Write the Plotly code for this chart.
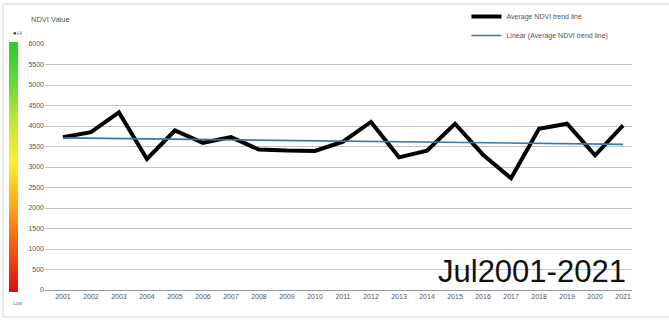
import numpy as np
import plotly.graph_objects as go

years = list(range(2001, 2022))
ndvi = [3725, 3850, 4330, 3195, 3890, 3590, 3730, 3425, 3400, 3390, 3620,
        4100, 3235, 3400, 4055, 3300, 2725, 3933, 4055, 3283, 4015]
y_ticks = list(range(0, 6001, 500))

# least-squares trend of the yearly averages
slope, intercept = np.polyfit(years, ndvi, 1)
trend = [slope * yr + intercept for yr in years]

font = "Liberation Sans, Arial, sans-serif"

fig = go.Figure()
fig.add_trace(go.Scatter(
    x=years, y=ndvi, mode="lines", name="Average NDVI trend line",
    line=dict(color="#000000", width=4),
))
fig.add_trace(go.Scatter(
    x=years, y=trend, mode="lines", name="Linear (Average NDVI trend line)",
    line=dict(color="#3a78a8", width=1.6),
))
# colour ramp on the left side
fig.add_trace(go.Scatter(
    x=[None], y=[None], mode="markers", showlegend=False, hoverinfo="skip",
    marker=dict(
        color=[0], cmin=0, cmax=1, showscale=True,
        colorscale=[[0, "#d90f0f"], [0.18, "#f25a12"], [0.35, "#ffab1a"],
                    [0.52, "#ffef2a"], [0.7, "#b5e83a"], [0.85, "#5fd83a"],
                    [1, "#2ccc2c"]],
        colorbar=dict(
            x=-0.061, xanchor="left", y=0.5, yanchor="middle",
            lenmode="pixels", len=270, thickness=9, xpad=0,
            outlinewidth=0, showticklabels=False, ticks="",
        ),
    ),
))

fig.update_layout(
    width=669, height=320,
    margin=dict(l=45, r=37, t=44, b=30, autoexpand=False),
    paper_bgcolor="white", plot_bgcolor="white",
    font=dict(family=font, size=7, color="#555555"),
    showlegend=True,
    legend=dict(
        x=0.718, y=1.171, xanchor="left", yanchor="top",
        bgcolor="rgba(0,0,0,0)", font=dict(size=7, color="#555555"),
        itemwidth=30, tracegroupgap=0,
    ),
    xaxis=dict(
        range=[2000.36, 2021.32], tickmode="array", tickvals=years,
        ticktext=[str(y) for y in years], showgrid=False, zeroline=False,
        showline=True, linecolor="#9a9a9a", linewidth=1, ticks="",
        tickfont=dict(size=7, color="#555555"),
    ),
    yaxis=dict(
        range=[0, 6000], tickmode="array", tickvals=y_ticks,
        ticktext=[str(v) for v in y_ticks], showgrid=True,
        gridcolor="#c4c4c4", gridwidth=1, zeroline=False, ticks="",
        tickfont=dict(size=7, color="#555555"),
    ),
    shapes=[dict(
        type="rect", xref="paper", yref="paper",
        x0=-42 / 587, x1=634 / 587, y0=-27 / 246, y1=1 + 40 / 246,
        line=dict(color="#d6d6d6", width=1), fillcolor="rgba(0,0,0,0)",
        layer="below",
    )],
    annotations=[
        dict(text="NDVI Value", xref="paper", yref="paper",
             x=-16 / 587, y=1 + 24 / 246, xanchor="left", yanchor="middle",
             showarrow=False, font=dict(size=7.5, color="#555555")),
        dict(text="<span style='color:#333'>●</span>Hi", xref="paper", yref="paper",
             x=-34 / 587, y=1 + 11 / 246, xanchor="left", yanchor="middle",
             showarrow=False, font=dict(size=6, color="#a070c0")),
        dict(text="Low", xref="paper", yref="paper",
             x=-27 / 587, y=-13 / 246, xanchor="center", yanchor="middle",
             showarrow=False, font=dict(size=5, color="#777777")),
        dict(text="Jul2001-2021", xref="paper", yref="paper",
             x=1 - 4 / 587, y=-1 / 246, xanchor="right", yanchor="bottom",
             showarrow=False, font=dict(size=31, color="#111111", family=font)),
    ],
)

fig.write_html("out.html")
